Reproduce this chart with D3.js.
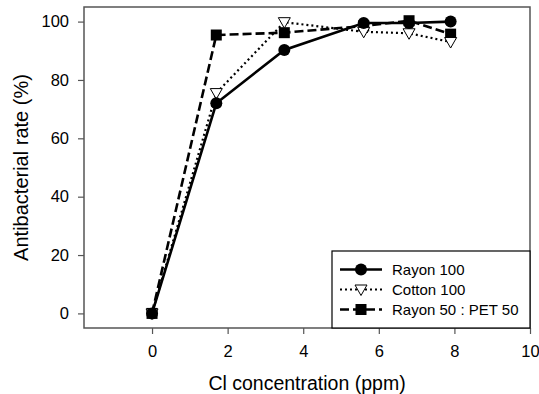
<!DOCTYPE html>
<html>
<head>
<meta charset="utf-8">
<script src="https://cdn.jsdelivr.net/npm/d3@7"></script>
<style>
  html, body { margin: 0; padding: 0; background: #fff; }
  svg { display: block; }
  text { font-family: "Liberation Sans", Arial, sans-serif; fill: #000; }
</style>
</head>
<body>
<script>
const concentrations = [0, 1.7, 3.5, 5.6, 6.8, 7.9];
const rayon100 = [0, 72, 90.3, 99.5, 99.5, 100];
const cotton100 = [0, 75.5, 99.8, 96.5, 96, 93];
const rayon50pet50 = [0, 95.4, 96.2, 98.5, 100.3, 95.7];
const seriesNames = ["Rayon 100", "Cotton 100", "Rayon 50 : PET 50"];
const xTicks = [0, 2, 4, 6, 8, 10];
const yTicks = [0, 20, 40, 60, 80, 100];

const W = 539, H = 394;
const L = 84, R = 530, T = 7, B = 328;

const svg = d3.select("body").append("svg").attr("width", W).attr("height", H);

const x = d3.scaleLinear().domain([-1.8, 10]).range([L, R]);
const y = d3.scaleLinear().domain([-5, 105]).range([B, T]);

const frameColor = "#555";

// axes
const xAxis = svg.append("g").attr("transform", `translate(0,${B})`)
  .call(d3.axisBottom(x).tickValues(xTicks).tickSize(6).tickPadding(11).tickFormat(d3.format("d")));
const yAxis = svg.append("g").attr("transform", `translate(${L},0)`)
  .call(d3.axisLeft(y).tickValues(yTicks).tickSize(6).tickPadding(9).tickFormat(d3.format("d")));
[xAxis, yAxis].forEach(g => {
  g.select(".domain").remove();
  g.selectAll(".tick line").attr("stroke", frameColor).attr("stroke-width", 1.2);
  g.selectAll(".tick text").style("font-family", '"Liberation Sans", Arial, sans-serif')
    .style("font-size", "16.5px").attr("fill", "#000");
});

// frame
svg.append("rect").attr("x", L).attr("y", T).attr("width", R - L).attr("height", B - T)
  .attr("fill", "none").attr("stroke", frameColor).attr("stroke-width", 1.5);

// series
const sRayon = { name: seriesNames[0], values: rayon100, dash: null, width: 2.6, marker: "circle" };
const sCotton = { name: seriesNames[1], values: cotton100, dash: "2,3", width: 2.2, marker: "tri" };
const sBlend = { name: seriesNames[2], values: rayon50pet50, dash: "9,4", width: 2.6, marker: "square" };
const drawOrder = [sBlend, sCotton, sRayon];

const line = d3.line().x((d, i) => x(concentrations[i])).y(d => y(d));

function drawMarker(g, type, cx, cy) {
  if (type === "circle") {
    g.append("circle").attr("cx", cx).attr("cy", cy).attr("r", 6).attr("fill", "#000");
  } else if (type === "square") {
    g.append("rect").attr("x", cx - 5.5).attr("y", cy - 5.5).attr("width", 11).attr("height", 11).attr("fill", "#000");
  } else {
    g.append("path").attr("d", `M${cx - 6},${cy - 4.5}L${cx + 6},${cy - 4.5}L${cx},${cy + 6}Z`)
      .attr("fill", "#fff").attr("stroke", "#000").attr("stroke-width", 1);
  }
}

drawOrder.forEach(s => {
  const g = svg.append("g");
  g.append("path").datum(s.values).attr("d", line).attr("fill", "none")
    .attr("stroke", "#000").attr("stroke-width", s.width)
    .attr("stroke-dasharray", s.dash);
  s.values.forEach((v, i) => drawMarker(g, s.marker, x(concentrations[i]), y(v)));
});

// legend
const lg = svg.append("g");
lg.append("rect").attr("x", 332).attr("y", 251).attr("width", R - 332).attr("height", B - 251)
  .attr("fill", "#fff").attr("stroke", "#000").attr("stroke-width", 1.2);
const legendOrder = [sRayon, sCotton, sBlend];
legendOrder.forEach((s, i) => {
  const ly = 269.5 + i * 20;
  lg.append("line").attr("x1", 340).attr("x2", 382).attr("y1", ly).attr("y2", ly)
    .attr("stroke", "#000").attr("stroke-width", s.width).attr("stroke-dasharray", s.dash);
  drawMarker(lg, s.marker, 361, ly);
  lg.append("text").attr("x", 392).attr("y", ly).attr("dy", "0.36em")
    .style("font-size", "15px").text(s.name);
});

// axis titles
svg.append("text").attr("x", (L + R) / 2).attr("y", 390).attr("text-anchor", "middle")
  .style("font-size", "19.5px").text("Cl concentration (ppm)");
svg.append("text").attr("transform", `translate(28,${(T + B) / 2}) rotate(-90)`)
  .attr("text-anchor", "middle").style("font-size", "20px").text("Antibacterial rate (%)");
</script>
</body>
</html>
